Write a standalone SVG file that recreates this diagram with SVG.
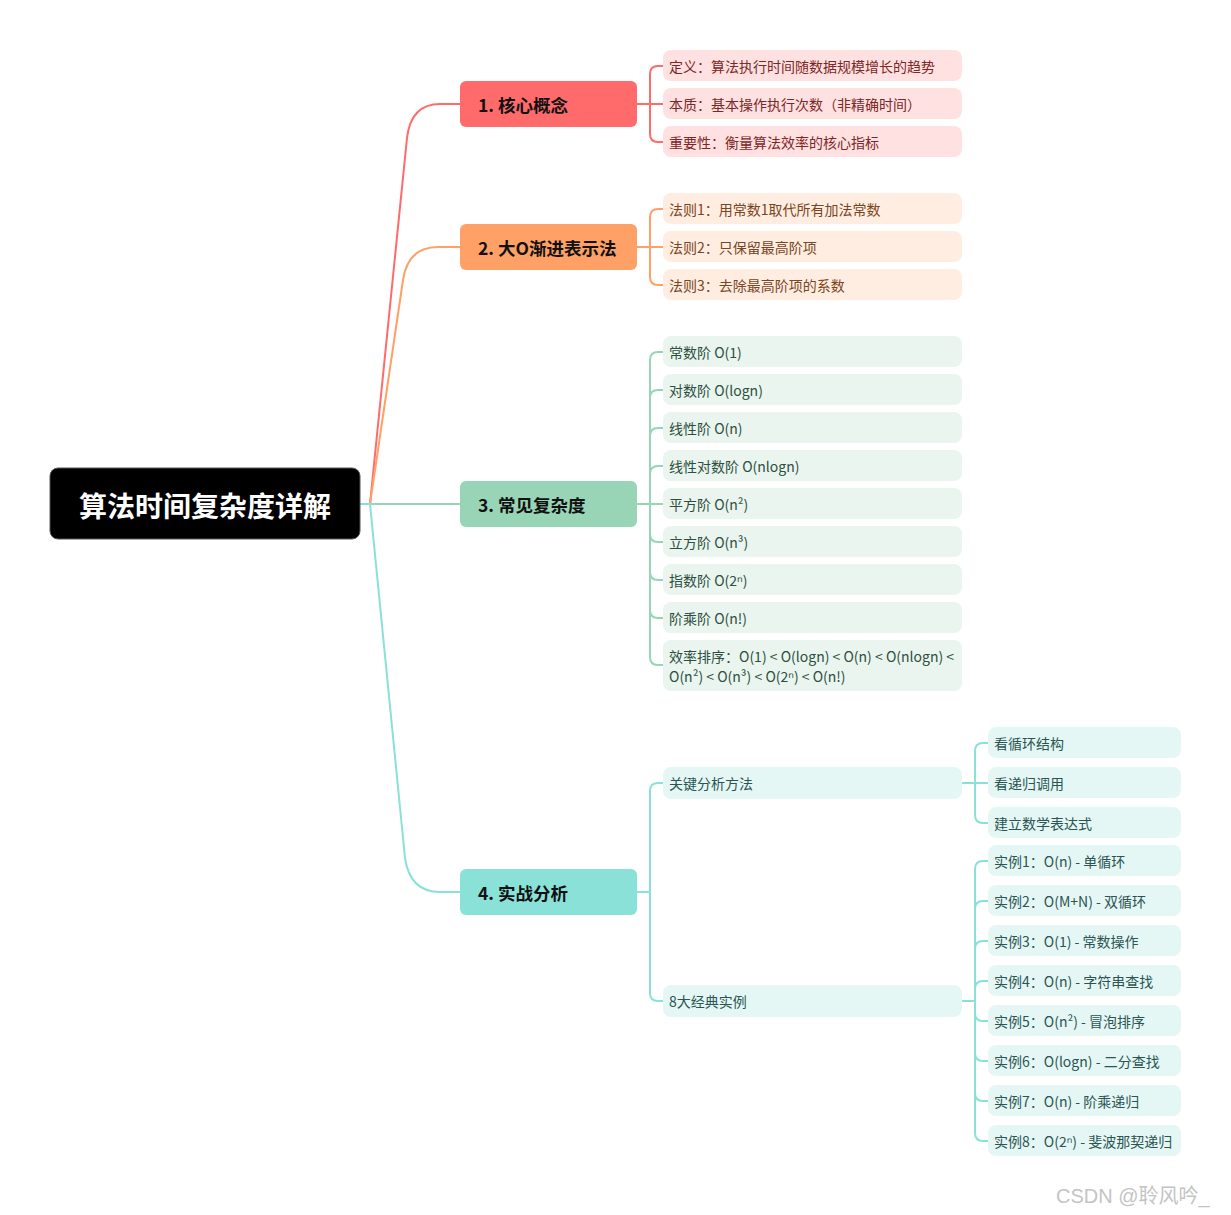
<svg xmlns="http://www.w3.org/2000/svg" width="1231" height="1215" viewBox="0 0 1231 1215">
<style>
text{font-family:"Noto Sans CJK SC","Noto Sans",sans-serif;dominant-baseline:central}
.root{font-size:28px;font-weight:700;fill:#fff;text-anchor:middle}
.l1{font-size:17.5px;font-weight:700;fill:#111}
.lf{font-size:14px}
.c1 rect{fill:#FFE1E1}.c1 text{fill:#7E2626}
.c2 rect{fill:#FFEDE1}.c2 text{fill:#7A4522}
.c3 rect{fill:#E9F5EE}.c3 text{fill:#2E4F40}
.c4 rect{fill:#E5F7F5}.c4 text{fill:#2A5552}
.ln{fill:none;stroke-width:2;stroke-linecap:round}
.r{stroke:#FF6B6B}.o{stroke:#FFA066}.g{stroke:#98D5B6}.t{stroke:#8AE1D8}
</style>
<rect width="1231" height="1215" fill="#fff"/>
<g id="connectors">
  <path class="ln r" d="M360,504 L370,504 L407,138 Q411,104 440,104 L460,104"/>
  <path class="ln o" d="M360,504 L370,504 L403,280 Q408,247 438,247 L460,247"/>
  <path class="ln g" d="M360,504 L460,504"/>
  <path class="ln t" d="M360,504 L370,504 L405,858 Q410,892 440,892 L460,892"/>
  <path class="ln r" d="M637,104 L663,104 M663,66 L658,66 Q650,66 650,74 L650,134 Q650,142 658,142 L663,142"/>
  <path class="ln o" d="M637,247 L663,247 M663,209 L658,209 Q650,209 650,217 L650,277 Q650,285 658,285 L663,285"/>
  <path class="ln g" d="M637,504 L663,504 M663,352 L658,352 Q650,352 650,360 L650,657 Q650,665 658,665 L663,665 M650,398 Q650,390 658,390 L663,390 M650,436 Q650,428 658,428 L663,428 M650,474 Q650,466 658,466 L663,466 M650,534 Q650,542 658,542 L663,542 M650,572 Q650,580 658,580 L663,580 M650,610 Q650,618 658,618 L663,618"/>
  <path class="ln t" d="M637,892 L650,892 M663,783 L658,783 Q650,783 650,791 L650,993 Q650,1001 658,1001 L663,1001"/>
  <path class="ln t" d="M962,783 L988,783 M988,743 L983,743 Q975,743 975,751 L975,815 Q975,823 983,823 L988,823"/>
  <path class="ln t" d="M962,1001 L975,1001 M988,861 L983,861 Q975,861 975,869 L975,1133 Q975,1141 983,1141 L988,1141 M975,909 Q975,901 983,901 L988,901 M975,949 Q975,941 983,941 L988,941 M975,989 Q975,981 983,981 L988,981 M975,1013 Q975,1021 983,1021 L988,1021 M975,1053 Q975,1061 983,1061 L988,1061 M975,1093 Q975,1101 983,1101 L988,1101"/>
</g>
<g id="root"><rect x="50" y="468" width="310" height="71" rx="8" fill="#000" stroke="#555" stroke-width="1"/><text class="root" x="205" y="505">算法时间复杂度详解</text></g>
<g id="n1"><rect x="460" y="81" width="177" height="46" rx="6" fill="#FF6B6B"/><text class="l1" x="478" y="104">1. 核心概念</text></g>
<g id="n2"><rect x="460" y="224" width="177" height="46" rx="6" fill="#FFA066"/><text class="l1" x="478" y="247">2. 大O渐进表示法</text></g>
<g id="n3"><rect x="460" y="481" width="177" height="46" rx="6" fill="#98D5B6"/><text class="l1" x="478" y="504">3. 常见复杂度</text></g>
<g id="n4"><rect x="460" y="869" width="177" height="46" rx="6" fill="#8AE1D8"/><text class="l1" x="478" y="892">4. 实战分析</text></g>

<g class="c1 lf">
 <g id="n1a"><rect x="663" y="50" width="299" height="31" rx="8"/><text x="669" y="66">定义：算法执行时间随数据规模增长的趋势</text></g>
 <g id="n1b"><rect x="663" y="88" width="299" height="31" rx="8"/><text x="669" y="104">本质：基本操作执行次数（非精确时间）</text></g>
 <g id="n1c"><rect x="663" y="126" width="299" height="31" rx="8"/><text x="669" y="142">重要性：衡量算法效率的核心指标</text></g>
</g>
<g class="c2 lf">
 <g id="n2a"><rect x="663" y="193" width="299" height="31" rx="8"/><text x="669" y="209">法则1：用常数1取代所有加法常数</text></g>
 <g id="n2b"><rect x="663" y="231" width="299" height="31" rx="8"/><text x="669" y="247">法则2：只保留最高阶项</text></g>
 <g id="n2c"><rect x="663" y="269" width="299" height="31" rx="8"/><text x="669" y="285">法则3：去除最高阶项的系数</text></g>
</g>
<g class="c3 lf">
 <g id="n3a"><rect x="663" y="336" width="299" height="31" rx="8"/><text x="669" y="352">常数阶 O(1)</text></g>
 <g id="n3b"><rect x="663" y="374" width="299" height="31" rx="8"/><text x="669" y="390">对数阶 O(logn)</text></g>
 <g id="n3c"><rect x="663" y="412" width="299" height="31" rx="8"/><text x="669" y="428">线性阶 O(n)</text></g>
 <g id="n3d"><rect x="663" y="450" width="299" height="31" rx="8"/><text x="669" y="466">线性对数阶 O(nlogn)</text></g>
 <g id="n3e"><rect x="663" y="488" width="299" height="31" rx="8"/><text x="669" y="504">平方阶 O(n²)</text></g>
 <g id="n3f"><rect x="663" y="526" width="299" height="31" rx="8"/><text x="669" y="542">立方阶 O(n³)</text></g>
 <g id="n3g"><rect x="663" y="564" width="299" height="31" rx="8"/><text x="669" y="580">指数阶 O(2ⁿ)</text></g>
 <g id="n3h"><rect x="663" y="602" width="299" height="31" rx="8"/><text x="669" y="618">阶乘阶 O(n!)</text></g>
 <g id="n3i"><rect x="663" y="640" width="299" height="51" rx="8"/><text x="669" y="656">效率排序：O(1) &lt; O(logn) &lt; O(n) &lt; O(nlogn) &lt;</text><text x="669" y="676">O(n²) &lt; O(n³) &lt; O(2ⁿ) &lt; O(n!)</text></g>
</g>
<g class="c4 lf">
 <g id="n4a"><rect x="663" y="767" width="299" height="32" rx="8"/><text x="669" y="783">关键分析方法</text></g>
 <g id="n4a1"><rect x="988" y="727" width="193" height="31" rx="8"/><text x="994" y="743">看循环结构</text></g>
 <g id="n4a2"><rect x="988" y="767" width="193" height="31" rx="8"/><text x="994" y="783">看递归调用</text></g>
 <g id="n4a3"><rect x="988" y="807" width="193" height="31" rx="8"/><text x="994" y="823">建立数学表达式</text></g>
 <g id="n4b"><rect x="663" y="985" width="299" height="32" rx="8"/><text x="669" y="1001">8大经典实例</text></g>
 <g id="n4b1"><rect x="988" y="845" width="193" height="31" rx="8"/><text x="994" y="861">实例1：O(n) - 单循环</text></g>
 <g id="n4b2"><rect x="988" y="885" width="193" height="31" rx="8"/><text x="994" y="901">实例2：O(M+N) - 双循环</text></g>
 <g id="n4b3"><rect x="988" y="925" width="193" height="31" rx="8"/><text x="994" y="941">实例3：O(1) - 常数操作</text></g>
 <g id="n4b4"><rect x="988" y="965" width="193" height="31" rx="8"/><text x="994" y="981">实例4：O(n) - 字符串查找</text></g>
 <g id="n4b5"><rect x="988" y="1005" width="193" height="31" rx="8"/><text x="994" y="1021">实例5：O(n²) - 冒泡排序</text></g>
 <g id="n4b6"><rect x="988" y="1045" width="193" height="31" rx="8"/><text x="994" y="1061">实例6：O(logn) - 二分查找</text></g>
 <g id="n4b7"><rect x="988" y="1085" width="193" height="31" rx="8"/><text x="994" y="1101">实例7：O(n) - 阶乘递归</text></g>
 <g id="n4b8"><rect x="988" y="1125" width="193" height="31" rx="8"/><text x="994" y="1141">实例8：O(2ⁿ) - 斐波那契递归</text></g>
</g>
<text x="1056" y="1196" style="font-family:'Liberation Sans','Noto Sans CJK SC',sans-serif;font-size:20px;fill:#c4c4c4">CSDN @聆风吟_</text>
</svg>
